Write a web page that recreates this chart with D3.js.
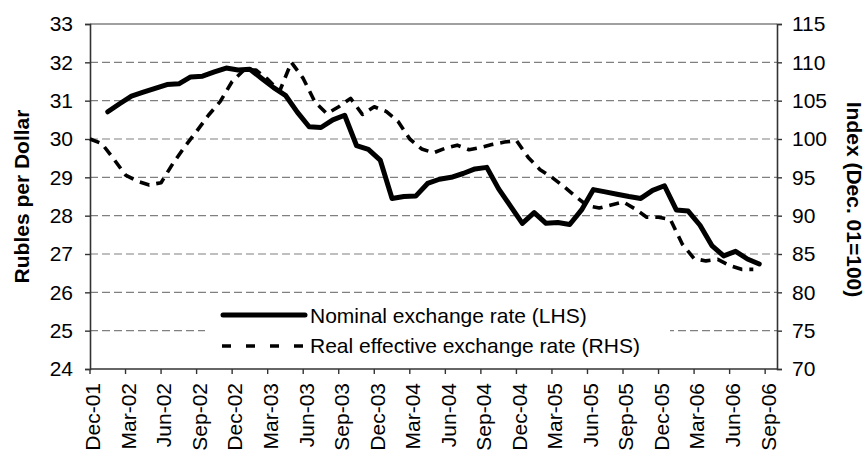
<!DOCTYPE html>
<html>
<head>
<meta charset="utf-8">
<script src="https://d3js.org/d3.v7.min.js"></script>
<style>
  body { margin: 0; background: #fff; }
  svg { font-family: "Liberation Sans", Arial, sans-serif; }
</style>
</head>
<body>
<script>
// months on the category axis (Dec-01 .. Sep-06)
var months = [
  "Dec-01","Jan-02","Feb-02","Mar-02","Apr-02","May-02","Jun-02","Jul-02","Aug-02","Sep-02","Oct-02","Nov-02",
  "Dec-02","Jan-03","Feb-03","Mar-03","Apr-03","May-03","Jun-03","Jul-03","Aug-03","Sep-03","Oct-03","Nov-03",
  "Dec-03","Jan-04","Feb-04","Mar-04","Apr-04","May-04","Jun-04","Jul-04","Aug-04","Sep-04","Oct-04","Nov-04",
  "Dec-04","Jan-05","Feb-05","Mar-05","Apr-05","May-05","Jun-05","Jul-05","Aug-05","Sep-05","Oct-05","Nov-05",
  "Dec-05","Jan-06","Feb-06","Mar-06","Apr-06","May-06","Jun-06","Jul-06","Aug-06","Sep-06"
];

// labelled every third month
var tickLabels = ["Dec-01","Mar-02","Jun-02","Sep-02","Dec-02","Mar-03","Jun-03","Sep-03","Dec-03","Mar-04",
  "Jun-04","Sep-04","Dec-04","Mar-05","Jun-05","Sep-05","Dec-05","Mar-06","Jun-06","Sep-06"];

// rubles per dollar, Jan-02 .. Aug-06 (LHS)
var nominalMonths = months.slice(1, 57);
var nominal = [
  30.71, 30.92, 31.12, 31.22, 31.32, 31.42, 31.44, 31.62, 31.64, 31.75, 31.85,
  31.80, 31.82, 31.58, 31.34, 31.14, 30.70, 30.32, 30.30, 30.50, 30.62, 29.83, 29.73,
  29.45, 28.45, 28.50, 28.51, 28.84, 28.95, 29.00, 29.10, 29.22, 29.26, 28.70, 28.25,
  27.80, 28.08, 27.80, 27.82, 27.77, 28.15, 28.68, 28.62, 28.56, 28.50, 28.45, 28.66,
  28.78, 28.15, 28.12, 27.75, 27.22, 26.95, 27.07, 26.87, 26.74
];

// real effective exchange rate index, Dec-01 .. Aug-06 (RHS)
var reerMonths = months.slice(0, 57);
var reer = [
  100.0, 99.4, 97.4, 95.3, 94.5, 94.0, 94.3, 96.8, 99.0, 101.0, 103.1, 104.9,
  107.5, 109.0, 109.0, 107.8, 106.2, 110.0, 107.9, 104.8, 103.3, 104.2, 105.3, 103.2,
  104.2, 103.6, 102.3, 100.0, 98.7, 98.2, 98.8, 99.2, 98.6, 98.9, 99.3, 99.6,
  99.8, 97.6, 96.0, 95.0, 93.8, 92.5, 91.3, 91.0, 91.4, 91.8, 90.9, 89.8,
  89.8, 89.5, 86.3, 84.4, 84.1, 84.3, 83.5, 83.0, 83.0
];

var leftTicks = [24, 25, 26, 27, 28, 29, 30, 31, 32, 33];
var rightTicks = [70, 75, 80, 85, 90, 95, 100, 105, 110, 115];

var legendLabels = ["Nominal exchange rate (LHS)", "Real effective exchange rate (RHS)"];

var svgWidth = 868;
var svgHeight = 455;
var margin = { top: 24, right: 91, bottom: 86, left: 90 };
var width = svgWidth - margin.left - margin.right;
var height = svgHeight - margin.top - margin.bottom;

var svg = d3.select("body")
  .append("svg")
  .attr("width", svgWidth)
  .attr("height", svgHeight);

var chart = svg.append("g")
  .attr("transform", `translate(${margin.left}, ${margin.top})`);

// scales
var xBand = d3.scaleBand().domain(months).range([0, width]);
var yLeft = d3.scaleLinear().domain([24, 33]).range([height, 0]);
var yRight = d3.scaleLinear().domain([70, 115]).range([height, 0]);

// gridlines
chart.append("g")
  .selectAll("line")
  .data(leftTicks.slice(1, -1))
  .enter()
  .append("line")
  .attr("x1", 0)
  .attr("x2", width)
  .attr("y1", d => yLeft(d))
  .attr("y2", d => yLeft(d))
  .attr("stroke", "#808080")
  .attr("stroke-width", 1.2)
  .attr("stroke-dasharray", "8,4");

// plot area top border
chart.append("line")
  .attr("x1", 0).attr("x2", width)
  .attr("y1", 0).attr("y2", 0)
  .attr("stroke", "#808080")
  .attr("stroke-width", 1.5);

// axes
var tickSize = 5;
var bottomAxis = d3.axisBottom(xBand)
  .tickValues(tickLabels)
  .tickSizeInner(tickSize)
  .tickSizeOuter(0)
  .tickFormat("");
var leftAxis = d3.axisLeft(yLeft).tickValues(leftTicks).tickSizeOuter(0).tickSize(tickSize).tickPadding(12);
var rightAxis = d3.axisRight(yRight).tickValues(rightTicks).tickSizeOuter(0).tickSize(tickSize).tickPadding(10);

var xAxisG = chart.append("g")
  .attr("transform", `translate(0, ${height})`)
  .call(bottomAxis);
// ticks sit on the category edge, not its centre
xAxisG.selectAll(".tick").attr("transform", d => `translate(${xBand(d)},0)`);
xAxisG.selectAll(".tick")
  .append("text")
  .attr("transform", "translate(3,14) rotate(-90)")
  .attr("dy", "0.35em")
  .attr("text-anchor", "end")
  .attr("fill", "#000")
  .style("font-size", "21px")
  .text(d => d);

var leftG = chart.append("g").call(leftAxis);
var rightG = chart.append("g")
  .attr("transform", `translate(${width}, 0)`)
  .call(rightAxis);

[xAxisG, leftG, rightG].forEach(function(g) {
  g.select(".domain").attr("stroke", "#333").attr("stroke-width", 1.6);
  g.selectAll(".tick line").attr("stroke", "#333").attr("stroke-width", 1.4);
});
leftG.selectAll(".tick text").style("font-size", "21px").attr("fill", "#000");
rightG.selectAll(".tick text").style("font-size", "21px").attr("fill", "#000");
// axis line continues across full width
xAxisG.select(".domain").attr("d", `M0,0H${width}`);

// legend box
var legend = chart.append("g").attr("transform", "translate(115, 274)");
legend.append("rect")
  .attr("width", 465)
  .attr("height", 66)
  .attr("fill", "#fff");

// series lines
var lineNominal = d3.line()
  .x((d, i) => xBand(nominalMonths[i]) + xBand.bandwidth() / 2)
  .y(d => yLeft(d));

var lineReer = d3.line()
  .x((d, i) => xBand(reerMonths[i]))
  .y(d => yRight(d));

chart.append("path")
  .datum(reer)
  .attr("d", lineReer)
  .attr("fill", "none")
  .attr("stroke", "#000")
  .attr("stroke-width", 3.6)
  .attr("stroke-dasharray", "10,7")
  .attr("stroke-linejoin", "round");

chart.append("path")
  .datum(nominal)
  .attr("d", lineNominal)
  .attr("fill", "none")
  .attr("stroke", "#000")
  .attr("stroke-width", 5)
  .attr("stroke-linejoin", "round")
  .attr("stroke-linecap", "round");

// legend entries
legend.append("line")
  .attr("x1", 18).attr("x2", 100)
  .attr("y1", 17).attr("y2", 17)
  .attr("stroke", "#000")
  .attr("stroke-width", 5)
  .attr("stroke-linecap", "round");
legend.append("line")
  .attr("x1", 17).attr("x2", 100)
  .attr("y1", 48).attr("y2", 48)
  .attr("stroke", "#000")
  .attr("stroke-width", 3.6)
  .attr("stroke-dasharray", "9,15");

legend.selectAll(".legText")
  .data(legendLabels)
  .enter()
  .append("text")
  .attr("class", "legText")
  .attr("x", 105)
  .attr("y", (d, i) => 25 + i * 30)
  .style("font-size", "21px")
  .text(d => d);

// axis titles
svg.append("text")
  .attr("transform", `translate(29, ${margin.top + height / 2}) rotate(-90)`)
  .attr("text-anchor", "middle")
  .style("font-size", "21px")
  .style("font-weight", "bold")
  .text("Rubles per Dollar");

svg.append("text")
  .attr("transform", `translate(847, ${margin.top + height / 2 + 3}) rotate(90)`)
  .attr("text-anchor", "middle")
  .style("font-size", "21px")
  .style("font-weight", "bold")
  .text("Index (Dec. 01=100)");
</script>
</body>
</html>
